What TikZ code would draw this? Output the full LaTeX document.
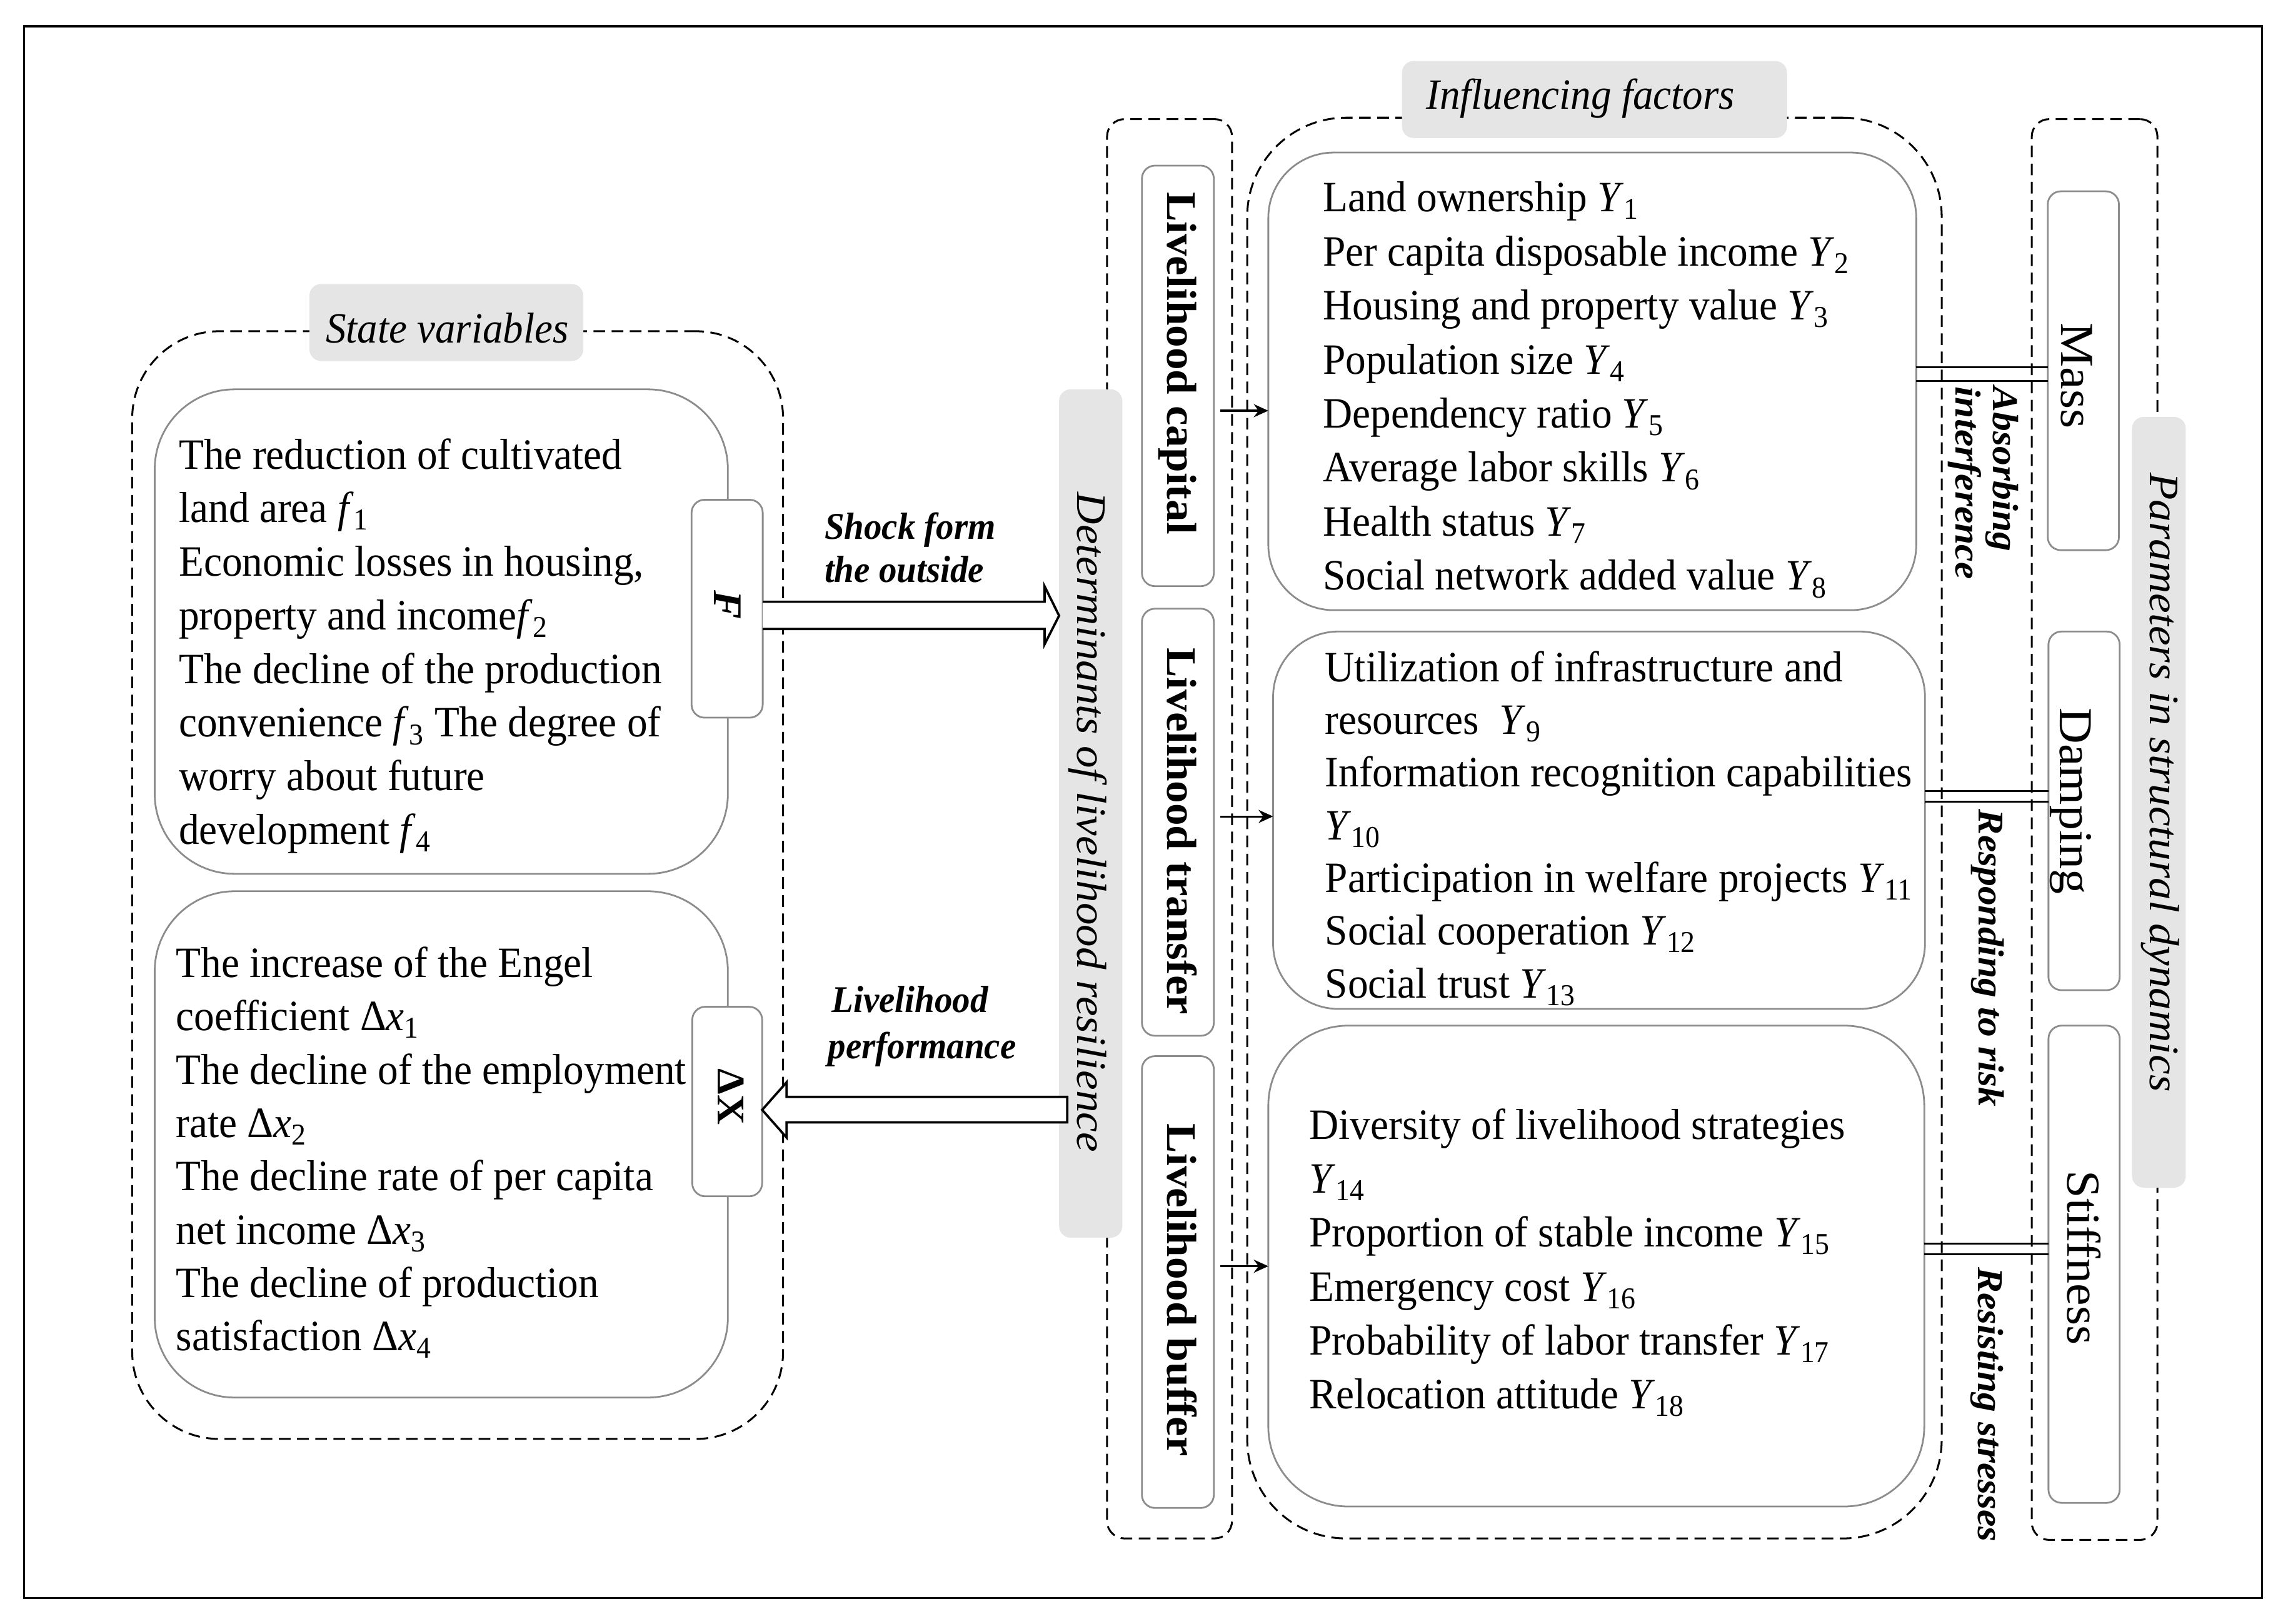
\documentclass[tikz,border=0pt]{standalone}
\usepackage{fontspec}
\setmainfont{Liberation Serif}[FakeStretch=0.943]
\newfontfamily\rotfont{Liberation Serif}[FakeStretch=1.06]
\usetikzlibrary{fit,arrows.meta}
\newcommand\Ysub[1]{\textit{Y}\textsubscript{#1}}
\newcommand\fsub[1]{\textit{f}\textsubscript{#1}}
\newcommand\dxsub[1]{Δ\textit{x}\textsubscript{#1}}
\begin{document}
\begin{tikzpicture}[x=1pt,y=-1pt,
  box/.style={draw=black!45, line width=1.2pt, inner sep=0pt, outer sep=0pt},
  cont/.style={draw=black, line width=1.3pt, dash pattern=on 8pt off 4.5pt, inner sep=0pt, outer sep=0pt},
  glabel/.style={fill=black!10, rounded corners=8pt, inner sep=0pt, outer sep=0pt},
  hollow/.style={draw=black, line width=1.6pt, fill=white, line join=miter},
  link/.style={line width=1.3pt},
  smallarrow/.style={line width=1.3pt, -{Stealth[length=10pt,width=9pt]}},
  body/.style={inner sep=0pt, anchor=north west, align=left},
  rot/.style={rotate=-90, inner sep=0pt, anchor=base},
  lbl/.style={inner sep=0pt, anchor=base west},
]
\useasboundingbox (0,0) rectangle (1568,1117.5);
% frame
\draw[line width=1.5pt] (16.5,18) rectangle (1557,1100);

% dashed containers
\node[cont, rounded corners=60pt, fit={(91,228) (539,990.5)}] (stc) {};
\node[cont, rounded corners=12pt, fit={(762,82) (848,1059)}] (detc) {};
\node[cont, rounded corners=68pt, fit={(858.5,81) (1336.5,1059)}] (infc) {};
\node[cont, rounded corners=12pt, fit={(1398.5,82) (1485,1060)}] (parc) {};

% grey labels and bars
\node[glabel, fit={(213,195.5) (401.5,248.5)}] (stl) {};
\node[glabel, fit={(965,42) (1230,95)}] (infl) {};
\node[glabel, fit={(729,268) (772.5,852)}] (detbar) {};
\node[glabel, fit={(1467.5,287) (1504.5,817.5)}] (parbar) {};

% boxes
\node[box, rounded corners=55pt, fit={(106.5,268) (501,601.5)}] (sv1) {};
\node[box, rounded corners=55pt, fit={(106.5,613.5) (501,962)}] (sv2) {};
\node[box, fill=white, rounded corners=9pt, fit={(476,344) (525,494)}] (F) {};
\node[box, fill=white, rounded corners=9pt, fit={(476.5,693) (524.6,823.5)}] (dX) {};
\node[box, rounded corners=45pt, fit={(873,105) (1319,420)}] (fac1) {};
\node[box, rounded corners=45pt, fit={(876.3,434.7) (1325,694.5)}] (fac2) {};
\node[box, rounded corners=55pt, fit={(873,706) (1324.5,1037)}] (fac3) {};
\node[box, rounded corners=9pt, fit={(786,114) (835.5,403.5)}] (cap) {};
\node[box, rounded corners=9pt, fit={(786,419) (835.5,713)}] (tra) {};
\node[box, rounded corners=9pt, fit={(786,727) (835.5,1038)}] (buf) {};
\node[box, rounded corners=9pt, fit={(1409.5,131.7) (1458.5,378.7)}] (mass) {};
\node[box, rounded corners=9pt, fit={(1410,434.7) (1459,681.6)}] (damp) {};
\node[box, rounded corners=9pt, fit={(1410,706) (1459,1034.5)}] (stiff) {};

% hollow arrows
\draw[hollow] (F.east |- 0,414.2) -- (719,414.2) -- (719,403.6) -- (detbar.west |- 0,423.8) -- (719,443.5) -- (719,433) -- (F.east |- 0,433);
\draw[hollow] (541.4,755) -- (734.6,755) -- (734.6,772.6) -- (541.4,772.6) -- (541.4,783) -- (dX.east |- 0,764) -- (541.4,745) -- cycle;

% small arrows
\draw[smallarrow, shorten <=4.5pt] (cap.east |- 0,282.7) -- (fac1.west |- 0,282.7);
\draw[smallarrow, shorten <=4.5pt] (tra.east |- 0,562) -- (fac2.west |- 0,562);
\draw[smallarrow, shorten <=4.5pt] (buf.east |- 0,871.6) -- (fac3.west |- 0,871.6);

% double links
\draw[link] (fac1.east |- 0,252.9) -- (mass.west |- 0,252.9);
\draw[link] (fac1.east |- 0,262.2) -- (mass.west |- 0,262.2);
\draw[link] (fac2.east |- 0,544.7) -- (damp.west |- 0,544.7);
\draw[link] (fac2.east |- 0,551.7) -- (damp.west |- 0,551.7);
\draw[link] (fac3.east |- 0,855.9) -- (stiff.west |- 0,855.9);
\draw[link] (fac3.east |- 0,863.4) -- (stiff.west |- 0,863.4);

% titles
\node[lbl, font=\fontsize{29.7}{36}\selectfont\itshape] (stt) at (224,236) {State variables};
\node[lbl, font=\fontsize{29.7}{36}\selectfont\itshape] (inft) at (981.5,75) {Influencing factors};

% body texts
\node[body, font=\fontsize{29.8}{36.9}\selectfont] (sv1t) at (123,296.7) {\strut The reduction of cultivated\\ land area \fsub{1}\\ Economic losses in housing,\\ property and income\fsub{2}\\ The decline of the production\\ convenience \fsub{3} The degree of\\ worry about future\\ development \fsub{4}};
\node[body, font=\fontsize{29.8}{36.7}\selectfont] (sv2t) at (121,646.9) {\strut The increase of the Engel\\ coefficient \dxsub{1}\\ The decline of the employment\\ rate \dxsub{2}\\ The decline rate of per capita\\ net income \dxsub{3}\\ The decline of production\\ satisfaction \dxsub{4}};
\node[body, font=\fontsize{29.8}{37.2}\selectfont] (fac1t) at (910.4,119.5) {\strut Land ownership \Ysub{1}\\ Per capita disposable income \Ysub{2}\\ Housing and property value \Ysub{3}\\ Population size \Ysub{4}\\ Dependency ratio \Ysub{5}\\ Average labor skills \Ysub{6}\\ Health status \Ysub{7}\\ Social network added value \Ysub{8}};
\node[body, font=\fontsize{29.8}{36.3}\selectfont] (fac2t) at (911.9,443.4) {\strut Utilization of infrastructure and\\ resources\ \ \Ysub{9}\\ Information recognition capabilities\\ \Ysub{10}\\ Participation in welfare projects \Ysub{11}\\ Social cooperation \Ysub{12}\\ Social trust \Ysub{13}};
\node[body, font=\fontsize{29.8}{37.1}\selectfont] (fac3t) at (901,758) {\strut Diversity of livelihood strategies\\ \Ysub{14}\\ Proportion of stable income \Ysub{15}\\ Emergency cost \Ysub{16}\\ Probability of labor transfer \Ysub{17}\\ Relocation attitude \Ysub{18}};

% arrow labels
\node[lbl, font=\fontsize{26}{30}\selectfont\bfseries\itshape] (shock1) at (567.4,371) {Shock form};
\node[lbl, font=\fontsize{26}{30}\selectfont\bfseries\itshape] (shock2) at (567.4,401) {the outside};
\node[lbl, font=\fontsize{26}{30}\selectfont\bfseries\itshape] (perf1) at (572.3,697) {Livelihood};
\node[lbl, font=\fontsize{26}{30}\selectfont\bfseries\itshape] (perf2) at (569.8,728.9) {performance};

% rotated texts
\node[rot, font=\rotfont\fontsize{28}{30}\selectfont\bfseries\itshape] (Ft) at (491.5,416.5) {F};
\node[rot, font=\rotfont\fontsize{27}{30}\selectfont\bfseries] (dXt) at (494,755) {ΔX};
\node[rot, font=\rotfont\fontsize{28.9}{30}\selectfont\itshape] (dett) at (741.5,566) {Determinants of livelihood resilience};
\node[rot, font=\rotfont\fontsize{28.9}{30}\selectfont\bfseries] (capt) at (803.5,250) {Livelihood capital};
\node[rot, font=\rotfont\fontsize{28.9}{30}\selectfont\bfseries] (trat) at (803.5,572.2) {Livelihood transfer};
\node[rot, font=\rotfont\fontsize{28.9}{30}\selectfont\bfseries] (buft) at (803.5,888) {Livelihood buffer};
\node[rot, font=\rotfont\fontsize{32.5}{34}\selectfont] (masst) at (1419,258.6) {Mass};
\node[rot, font=\rotfont\fontsize{32.5}{34}\selectfont] (dampt) at (1418,551.4) {Damping};
\node[rot, font=\rotfont\fontsize{32.5}{34}\selectfont] (stifft) at (1423,865.7) {Stiffness};
\node[rot, font=\rotfont\fontsize{28.9}{30}\selectfont\itshape] (part) at (1480,538.5) {Parameters in structural dynamics};
\node[rot, anchor=base west, font=\rotfont\fontsize{25}{26}\selectfont\bfseries\itshape] (abs1) at (1372,266) {Absorbing};
\node[rot, anchor=base west, font=\rotfont\fontsize{25}{26}\selectfont\bfseries\itshape] (abs2) at (1346,266) {interference};
\node[rot, anchor=base west, font=\rotfont\fontsize{25}{26}\selectfont\bfseries\itshape] (resp) at (1362,557) {Responding to risk};
\node[rot, anchor=base west, font=\rotfont\fontsize{25}{26}\selectfont\bfseries\itshape] (resi) at (1361.5,872) {Resisting stresses};
\end{tikzpicture}
\end{document}
